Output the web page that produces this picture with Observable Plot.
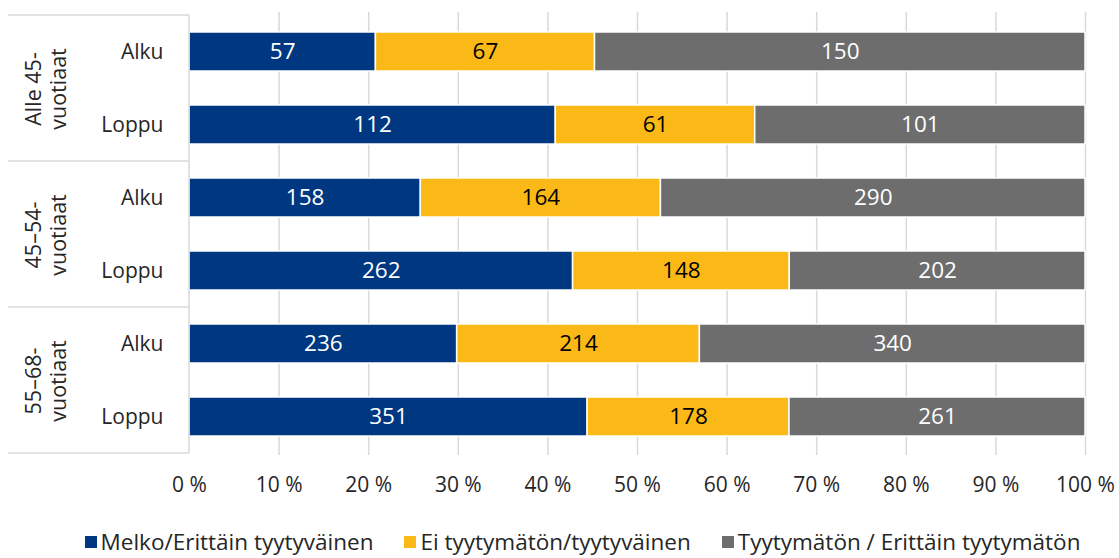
<!DOCTYPE html>
<html>
<head>
<meta charset="utf-8">
<script src="https://cdn.jsdelivr.net/npm/d3@7"></script>
<script src="https://cdn.jsdelivr.net/npm/@observablehq/plot@0.6"></script>
<style>
  html, body { margin: 0; padding: 0; background: #fff; }
  body { width: 1119px; height: 558px; overflow: hidden; font-family: "Open Sans", "Noto Sans", sans-serif; }
  #legend { display: flex; justify-content: center; gap: 31px; font-size: 22.5px; color: #262626; margin-top: 16px; padding-left: 46px; }
  #legend .item { display: flex; align-items: center; }
  #legend .sw { width: 12px; height: 12px; margin-right: 4px; display: inline-block; }
</style>
</head>
<body>
<div id="chart"></div>
<div id="legend"></div>
<script>
const groups = ["Alle 45-\nvuotiaat", "45–54-\nvuotiaat", "55–68-\nvuotiaat"];
const times = ["Alku", "Loppu"];
const series = ["Melko/Erittäin tyytyväinen", "Ei tyytymätön/tyytyväinen", "Tyytymätön / Erittäin tyytymätön"];
const colors = ["#003781", "#FBB918", "#6D6D6D"];
const textColors = ["white", "black", "white"];
// values per row: Alle45 Alku, Alle45 Loppu, 45–54 Alku, 45–54 Loppu, 55–68 Alku, 55–68 Loppu
const melko = [57, 112, 158, 262, 236, 351];
const ei = [67, 61, 164, 148, 214, 178];
const tyytymaton = [150, 101, 290, 202, 340, 261];
const xTicks = [0, 0.1, 0.2, 0.3, 0.4, 0.5, 0.6, 0.7, 0.8, 0.9, 1];

const rows = [];
groups.forEach(g => times.forEach(t => rows.push({group: g, time: t, key: g + "|" + t})));
const keys = rows.map(r => r.key);
const vals = [melko, ei, tyytymaton];
const data = [];
series.forEach((s, si) => rows.forEach((r, ri) => data.push({...r, series: s, si, value: vals[si][ri]})));
const groupRows = rows.filter(r => r.time === "Alku");

const W = 1119, H = 510;
const mL = 189, mR = 34, mT = 12, mB = 55;

const chart = Plot.plot({
  width: W,
  height: H,
  marginLeft: mL,
  marginRight: mR,
  marginTop: mT,
  marginBottom: mB,
  style: {fontFamily: "'Open Sans', 'Noto Sans', sans-serif", fontSize: "21px", color: "#262626", background: "white"},
  x: {domain: [0, 1], ticks: xTicks, tickFormat: d => Math.round(d * 100) + " %", tickSize: 0, tickPadding: 22, label: null},
  y: {domain: keys, paddingInner: 0.47, paddingOuter: 0.235, tickFormat: d => d.split("|")[1], tickSize: 0, tickPadding: 26, label: null},
  color: {domain: series, range: colors},
  marks: [
    Plot.ruleX(xTicks.slice(1), {stroke: "#d9d9d9", strokeWidth: 1.5}),
    Plot.barX(data, Plot.stackX({x: "value", y: "key", fill: "series", order: null, offset: "normalize", stroke: "white", strokeWidth: 1.5})),
    Plot.textX(data, Plot.stackX({x: "value", y: "key", z: "series", order: null, offset: "normalize", text: d => String(d.value), fill: d => textColors[d.si], fontSize: 22.5})),
    Plot.text(groupRows, {y: "key", frameAnchor: "left", text: "group", rotate: -90, dx: -144, dy: 37, textAnchor: "middle", lineAnchor: "middle", lineHeight: 1.15, fontSize: 21.5, fill: "#262626"})
  ]
});
document.getElementById("chart").appendChild(chart);

// group separator lines in left margin and the vertical axis line
const ys = chart.scale("y");
const svg = d3.select(chart);
const step = ys.step, bw = ys.bandwidth;
const bounds = groupRows.map(r => ys.apply(r.key) - (step - bw) / 2);
bounds.push(ys.apply(keys[keys.length - 1]) + bw + (step - bw) / 2);
svg.append("g").selectAll("line").data(bounds).join("line")
  .attr("x1", 8).attr("x2", mL).attr("y1", d => d).attr("y2", d => d)
  .attr("stroke", "#d9d9d9").attr("stroke-width", 1.5);
svg.append("line").attr("x1", mL).attr("x2", mL).attr("y1", bounds[0]).attr("y2", bounds[bounds.length - 1])
  .attr("stroke", "#d9d9d9").attr("stroke-width", 1.5);

const lg = d3.select("#legend");
series.forEach((s, i) => {
  const it = lg.append("div").attr("class", "item");
  it.append("span").attr("class", "sw").style("background", colors[i]);
  it.append("span").text(s);
});
</script>
</body>
</html>
